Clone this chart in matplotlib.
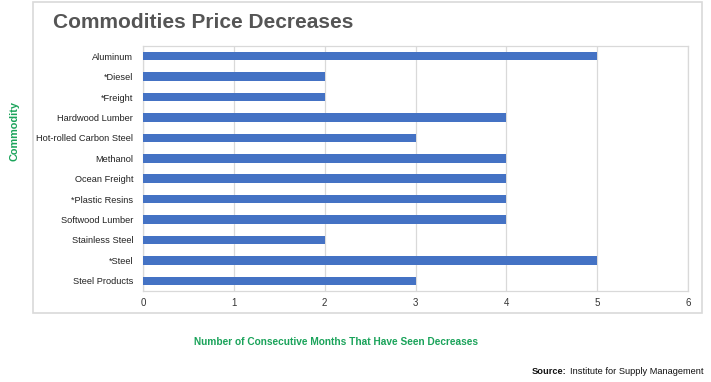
import matplotlib
matplotlib.use('Agg')
import matplotlib.pyplot as plt
from matplotlib.patches import Rectangle

plt.rcParams['font.family'] = ['Liberation Sans', 'DejaVu Sans']

# data
commodities = ['Aluminum', '*Diesel', '*Freight', 'Hardwood Lumber', 'Hot-rolled Carbon Steel',
               'Methanol', 'Ocean Freight', '*Plastic Resins', 'Softwood Lumber',
               'Stainless Steel', '*Steel', 'Steel Products']
months = [5, 2, 2, 4, 3, 4, 4, 4, 4, 2, 5, 3]
xticks = [0, 1, 2, 3, 4, 5, 6]

W, H = 711, 382
fig = plt.figure(figsize=(W / 100, H / 100), dpi=100)
fig.patch.set_facecolor('white')

# outer chart frame
fig.add_artist(Rectangle((33 / W, 1 - 313 / H), (702 - 33) / W, (313 - 2) / H,
                         transform=fig.transFigure, fill=False,
                         edgecolor='#d9d9d9', linewidth=1.2))

ax = fig.add_axes([143 / W, 1 - 291 / H, (688 - 143) / W, (291 - 46) / H])
y = list(range(len(commodities)))
ax.barh(y, months, height=0.42, color='#4472c4', zorder=3)
ax.set_ylim(len(commodities) - 0.5, -0.5)
ax.set_xlim(0, 6)
ax.set_xticks(xticks)
ax.set_yticks(y)
ax.set_yticklabels(commodities, fontsize=6.7, color='#222222')
ax.tick_params(axis='x', labelsize=7, colors='#333333', length=0, pad=5)
ax.tick_params(axis='y', length=0, pad=7)
ax.grid(axis='x', color='#d9d9d9', linewidth=0.9, zorder=0)
for s in ax.spines.values():
    s.set_color('#d9d9d9')
    s.set_linewidth(0.9)

fig.text(53 / W, 1 - 22 / H, 'Commodities Price Decreases', fontsize=15,
         fontweight='heavy', color='#555555', va='center', ha='left')
fig.text(14 / W, 1 - 131 / H, 'Commodity', rotation=90, fontsize=7.8,
         fontweight='bold', color='#1aa35a', va='center', ha='center')
fig.text(336 / W, 1 - 342 / H, 'Number of Consecutive Months That Have Seen Decreases',
         fontsize=7.3, fontweight='bold', color='#1aa35a', va='center', ha='center')
fig.text(703 / W, 1 - 371 / H, 'Institute for Supply Management',
         fontsize=6.7, color='#111111', va='center', ha='right')
fig.text(566 / W, 1 - 371 / H, 'Source:',
         fontsize=6.7, fontweight='bold', color='#111111', va='center', ha='right')

fig.savefig('out.png', dpi=100, facecolor='white')
